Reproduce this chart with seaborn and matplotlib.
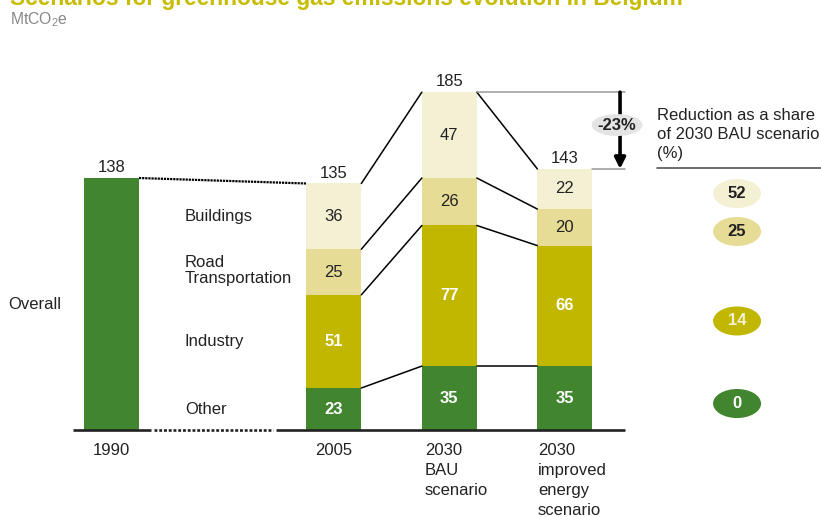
import numpy as np
import pandas as pd
import matplotlib
matplotlib.use("Agg")
import matplotlib.pyplot as plt
import seaborn as sns
from matplotlib.patches import Ellipse

# ---------------- data ----------------
periods = ["1990", "2005", "2030\nBAU\nscenario", "2030\nimproved\nenergy\nscenario"]
sectors = ["Other", "Industry", "Road\nTransportation", "Buildings"]
other = [138, 23, 35, 35]          # 1990 = overall emissions
industry = [0, 51, 77, 66]
road = [0, 25, 26, 20]
buildings = [0, 36, 47, 22]
totals = [138, 135, 185, 143]
reduction_share = [0, 14, 25, 52]  # Other, Industry, Road, Buildings (%)
overall_label = "Overall"

title = "Scenarios for greenhouse gas emissions evolution in Belgium"
unit = "MtCO$_\\mathrm{2}$e"

# ---------------- style ----------------
sns.set_style("white")
plt.rcParams["font.family"] = ["Liberation Sans", "DejaVu Sans"]
plt.rcParams["mathtext.fontset"] = "custom"
plt.rcParams["mathtext.rm"] = "Liberation Sans"
plt.rcParams["mathtext.it"] = "Liberation Sans:italic"
plt.rcParams["mathtext.bf"] = "Liberation Sans:bold"

C_GREEN = "#41862E"
C_IND = "#C2B700"
C_ROAD = "#E6DC96"
C_BLD = "#F4F0D3"
C_TXT = "#222222"
layer_colors = [C_GREEN, C_IND, C_ROAD, C_BLD]
label_colors = ["white", "white", C_TXT, C_TXT]
label_weights = ["bold", "bold", "normal", "normal"]
ellipse_text_colors = ["white", "#F4F0D3", C_TXT, C_TXT]

FS = 12
x_pos = [0.0, 1.925, 2.925, 3.925]
bar_w = 0.476
hw = bar_w / 2

fig = plt.figure(figsize=(8.21, 5.17), dpi=100)
ax = fig.add_axes([0, 0, 1, 1])

layers = [other, industry, road, buildings]
bottom = np.zeros(len(x_pos))
cums = []
for vals, col in zip(layers, layer_colors):
    df = pd.DataFrame({"pos": x_pos, "val": vals})
    sns.barplot(data=df, x="pos", y="val", native_scale=True, width=bar_w,
                color=col, saturation=1, bottom=bottom.copy(), errorbar=None,
                linewidth=0, edgecolor="none", ax=ax)
    cums.append(bottom.copy())
    bottom = bottom + np.array(vals)

ax.set_xlim(-111.5 / 115.5, (821 - 111.5) / 115.5)
ax.set_ylim(-87 / 1.826, 430 / 1.826)
ax.axis("off")

# segment value labels
for li, vals in enumerate(layers):
    for i in range(1, len(x_pos)):
        v = vals[i]
        if v <= 0:
            continue
        ax.text(x_pos[i], cums[li][i] + v / 2, f"{v}", ha="center", va="center",
                fontsize=FS, color=label_colors[li], fontweight=label_weights[li])

# totals
for i, t in enumerate(totals):
    ax.annotate(f"{t}", (x_pos[i], t), xytext=(0, 4.3), textcoords="offset points",
                ha="center", va="baseline", fontsize=FS, color=C_TXT)

# sector labels next to 2005 bar
for li, vals in enumerate(layers):
    ax.text(0.636, cums[li][1] + vals[1] / 2 + (0.8 if li == 2 else 0), sectors[li],
            ha="left", va="center", fontsize=FS, color=C_TXT, linespacing=1.03)
ax.text(-0.896, totals[0] / 2, overall_label, ha="left", va="center", fontsize=FS, color=C_TXT)

# connectors
ax.plot([x_pos[0] + hw, x_pos[1] - hw], [totals[0], totals[1]], color="black",
        lw=1.6, linestyle=(0, (1, 0.4)))
tops = [np.array(c) for c in cums[1:]] + [bottom]
for i in range(1, len(x_pos) - 1):
    for lvl in tops:
        ax.plot([x_pos[i] + hw, x_pos[i + 1] - hw], [lvl[i], lvl[i + 1]], color="black", lw=1.1)

# baseline
ax.plot([-0.333, 0.342], [0, 0], color=C_TXT, lw=1.9, solid_capstyle="butt")
ax.plot([0.368, 1.398], [0, 0], color=C_TXT, lw=1.9, linestyle=(0, (1.1, 0.7)))
ax.plot([1.424, 4.446], [0, 0], color=C_TXT, lw=1.9, solid_capstyle="butt")

# x labels
ax.text(x_pos[0], -7.2, periods[0], ha="center", va="top", fontsize=FS, color=C_TXT)
ax.text(x_pos[1], -7.2, periods[1], ha="center", va="top", fontsize=FS, color=C_TXT)
ax.text(2.714, -7.2, periods[2], ha="left", va="top", fontsize=FS, color=C_TXT, linespacing=1.4)
ax.text(3.692, -7.2, periods[3], ha="left", va="top", fontsize=FS, color=C_TXT, linespacing=1.4)

# reduction arrow
ax.plot([x_pos[2] + hw, 4.446], [totals[2], totals[2]], color="#999999", lw=1.1)
ax.plot([x_pos[3] + hw, 4.446], [totals[3], totals[3]], color="#999999", lw=1.1)
ax.annotate("", xy=(4.403, totals[3]), xytext=(4.403, totals[2]),
            arrowprops=dict(arrowstyle="-|>", lw=2.6, color="black", mutation_scale=16,
                            shrinkA=0, shrinkB=0))
red = round((totals[3] - totals[2]) / totals[2] * 100)
ax.add_patch(Ellipse((4.377, 167), 0.44, 12.0, facecolor="#E4E4E4", edgecolor="none", zorder=5))
ax.text(4.377, 167, f"{red}%", ha="center", va="center", fontsize=FS, fontweight="bold",
        color=C_TXT, zorder=6)

# right-side panel
ax.text(4.723, 161.8, "Reduction as a share\nof 2030 BAU scenario\n(%)", ha="left", va="center",
        fontsize=FS, color=C_TXT, linespacing=1.33)
ax.plot([4.723, 6.2], [143.5, 143.5], color="#555555", lw=1.2)
ell_y = [14.5, 59.7, 108.7, 129.5]
for li, share in enumerate(reduction_share):
    ax.add_patch(Ellipse((5.416, ell_y[li]), 0.4156, 15.9, facecolor=layer_colors[li],
                         edgecolor="none", zorder=5))
    ax.text(5.416, ell_y[li], f"{share}", ha="center", va="center", fontsize=FS,
            fontweight="bold", color=ellipse_text_colors[li], zorder=6)

# title & unit
fig.text(10 / 821, 1 - 5.5 / 517, title, ha="left", va="baseline", fontsize=16.4,
         fontweight="bold", color="#C6BD00")
fig.text(10 / 821, 1 - 24 / 517, unit, ha="left", va="baseline", fontsize=11.3, color="#888888")

fig.savefig("out.png", dpi=100)
